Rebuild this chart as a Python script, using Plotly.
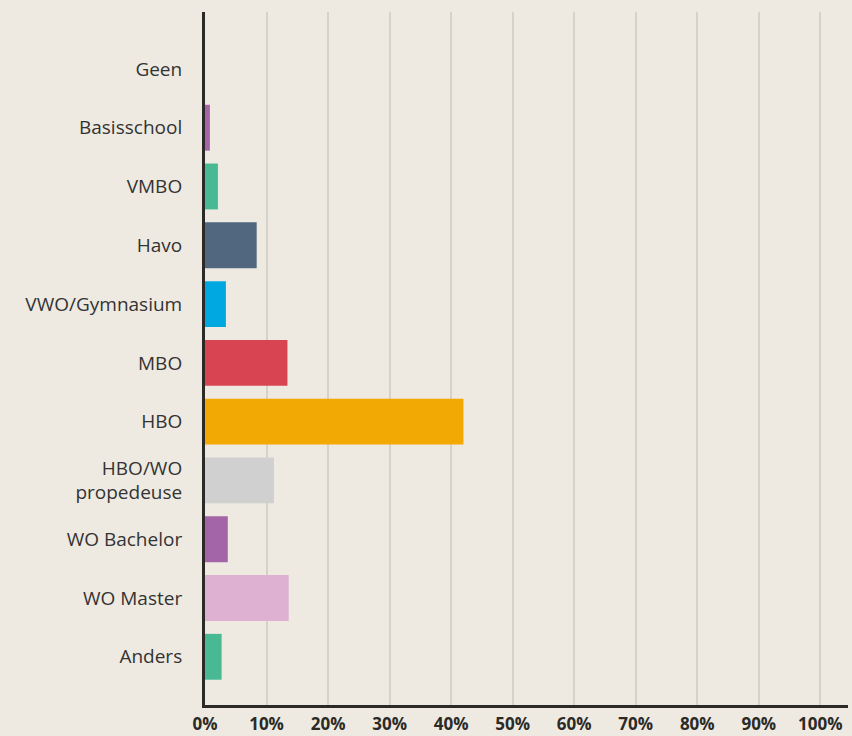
import plotly.graph_objects as go

categories = ["Geen", "Basisschool", "VMBO", "Havo", "VWO/Gymnasium", "MBO", "HBO",
              "HBO/WO<br>propedeuse", "WO Bachelor", "WO Master", "Anders"]
values = [0, 0.8, 2.1, 8.4, 3.4, 13.4, 42.0, 11.2, 3.7, 13.6, 2.7]
colors = ["#A565A8", "#A565A8", "#48B992", "#50677F", "#00A8E1", "#D94452", "#F2A904",
          "#D0D0D0", "#A365A8", "#DEB0D2", "#48B992"]
tick_vals = [0, 10, 20, 30, 40, 50, 60, 70, 80, 90, 100]
tick_text = [f"{v}%" for v in tick_vals]

BG = "#EEEAE2"

fig = go.Figure(go.Bar(
    x=values, y=categories, orientation="h",
    marker=dict(color=colors, line=dict(width=0)),
    width=0.78, hoverinfo="x+y",
))

fig.update_layout(
    width=852, height=736,
    paper_bgcolor=BG, plot_bgcolor=BG,
    margin=dict(l=205, r=4, t=12, b=31, autoexpand=False),
    showlegend=False,
    font=dict(family="'Open Sans', 'Noto Sans', sans-serif", color="#333333"),
    xaxis=dict(
        range=[0, 104.5], tickvals=tick_vals, ticktext=tick_text,
        showgrid=True, gridcolor="#D5D2CC", gridwidth=2,
        showline=True, linecolor="#2B2A26", linewidth=3,
        zeroline=False, ticks="", ticklabelstandoff=2, automargin=False,
        tickfont=dict(size=17, color="#2B2A26", weight=700),
        fixedrange=True,
    ),
    yaxis=dict(
        type="category", categoryorder="array", categoryarray=categories,
        range=[10.82, -0.968],
        showline=True, linecolor="#2B2A26", linewidth=3,
        showgrid=False, zeroline=False, ticks="", ticklabelstandoff=16, automargin=False,
        tickfont=dict(size=19, color="#333333"),
        fixedrange=True,
    ),
)

fig.write_html(
    "out.html",
    config={"displayModeBar": False},
    post_script="document.body.style.margin='0';document.body.style.background='%s';" % BG,
)
